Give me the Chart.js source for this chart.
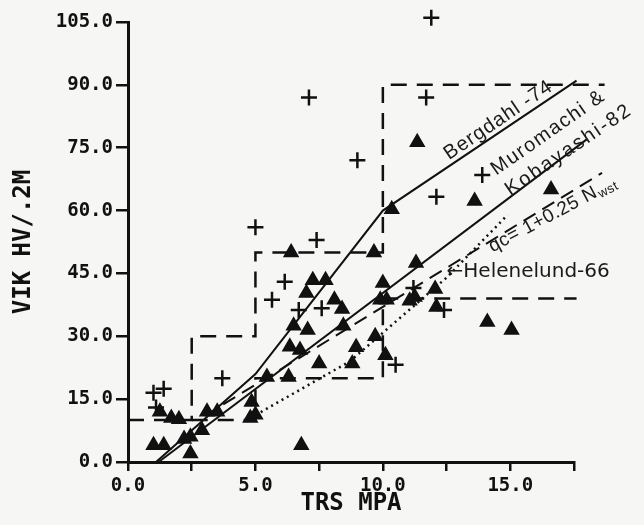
<!DOCTYPE html>
<html>
<head>
<meta charset="utf-8">
<script src="https://cdn.jsdelivr.net/npm/chart.js"></script>
<style>
  body { margin: 0; background: #f6f6f4; }
  canvas { display: block; }
</style>
</head>
<body>
<canvas id="chart" width="644" height="525"></canvas>
<script>
// plus markers
const plusX = [1.0, 1.4, 1.1, 3.7, 5.0, 5.65, 6.15, 6.7, 7.1, 7.4, 7.6, 9.0, 10.5, 11.2, 11.7, 11.9, 12.1, 12.4, 13.9, 18.7];
const plusY = [16.5, 17.5, 13.0, 20.0, 56.0, 38.7, 43.0, 36.3, 87.0, 53.0, 36.7, 72.0, 23.2, 41.5, 87.0, 106.0, 63.3, 36.3, 68.5, 69.0];

// triangle markers
const triX = [1.0, 1.4, 1.25, 1.7, 2.0, 2.2, 2.45, 2.45, 2.9, 3.1, 3.5, 4.85, 5.0, 4.8, 5.45, 6.3, 7.5, 8.8, 6.8,
  6.35, 6.75, 6.5, 7.05, 7.0, 7.25, 7.75, 6.4, 8.1, 8.4, 8.45, 8.95, 9.65, 9.7, 10.1, 10.0, 9.9, 10.15,
  11.3, 11.25, 11.05, 12.05, 12.1, 14.1, 15.05, 10.35, 11.35, 13.6, 16.6];
const triY = [4, 4, 12, 10.5, 10.2, 5.5, 6, 2, 7.6, 12, 12, 14.3, 11.3, 10.5, 20.3, 20.3, 23.5, 23.5, 4,
  27.5, 26.7, 32.5, 31.5, 40.3, 43.4, 43.4, 50, 38.7, 36.5, 32.5, 27.4, 50, 30, 25.5, 42.7, 38.7, 38.7,
  47.5, 39.4, 38.5, 41.3, 37, 33.4, 31.5, 60.3, 76.3, 62.3, 65];

// correlation curves
const bergX = [1.1, 5.0, 10.0, 17.6];
const bergY = [0, 21, 60, 91];
const muroX = [1.2, 18.0];
const muroY = [0, 77];
const qcX = [3.0, 18.6];
const qcY = [11, 69];
const heleX = [4.8, 8.7, 12.5, 14.9];
const heleY = [10.5, 24, 44, 59];

// zone boundaries
const upperX = [0, 2.5, 2.5, 5, 5, 10, 10, 18.7];
const upperY = [10, 10, 30, 30, 50, 50, 90, 90];
const lowerX = [2.5, 5, 5, 10, 10, 17.6];
const lowerY = [10, 10, 20, 20, 39, 39];

// axis ticks
const xTicks = [0, 5, 10, 15];
const yTicks = [0, 15, 30, 45, 60, 75, 90, 105];

function pts(xs, ys) {
  return xs.map((x, i) => ({ x: x, y: ys[i] }));
}

function line(xs, ys, dash, width) {
  return {
    data: pts(xs, ys),
    showLine: true,
    pointRadius: 0,
    borderColor: "#111",
    borderWidth: width,
    borderDash: dash,
    fill: false,
    clip: false,
  };
}

const annotate = {
  id: "annotate",
  beforeDraw(chart) {
    const ctx = chart.ctx;
    ctx.save();
    ctx.fillStyle = "#f6f6f4";
    ctx.fillRect(0, 0, chart.width, chart.height);
    ctx.restore();
  },
  afterDatasetsDraw(chart) {
    const ctx = chart.ctx;
    const sx = chart.scales.x;
    const sy = chart.scales.y;
    function label(text, x, y, angle, size, spacing, sub) {
      ctx.save();
      ctx.translate(sx.getPixelForValue(x), sy.getPixelForValue(y));
      ctx.rotate((-angle * Math.PI) / 180);
      ctx.font = size + "px 'Liberation Sans', sans-serif";
      ctx.letterSpacing = spacing + "px";
      ctx.fillStyle = "#1a1a1a";
      ctx.textBaseline = "alphabetic";
      ctx.fillText(text, 0, 0);
      if (sub) {
        const w = ctx.measureText(text).width;
        ctx.font = "13px 'Liberation Sans', sans-serif";
        ctx.fillText(sub, w + 1, 3);
      }
      ctx.restore();
    }
    label("Bergdahl -74", 12.6, 72, 34, 20, 1);
    label("Muromachi &", 14.45, 68.3, 35, 20, 1.5);
    label("Kobayashi-82", 15.0, 63.5, 34, 20, 2.2);
    label("qc= 1+0.25 N", 14.3, 50, 28, 19, 0.5, "wst");
    ctx.save();
    ctx.font = "20px 'DejaVu Sans', sans-serif";
    ctx.fillStyle = "#1a1a1a";
    ctx.textBaseline = "middle";
    ctx.fillText("\u2190Helenelund-66", sx.getPixelForValue(12.5), sy.getPixelForValue(45.3));
    ctx.restore();
  },
};

const tickFont = { family: "'DejaVu Sans Mono', monospace", size: 19, weight: "bold" };
const titleFont = { family: "'DejaVu Sans Mono', monospace", size: 24, weight: "bold" };

new Chart(document.getElementById("chart"), {
  type: "scatter",
  data: {
    datasets: [
      line(upperX, upperY, [16, 10], 2.5),
      line(lowerX, lowerY, [16, 10], 2.5),
      line(bergX, bergY, [], 2),
      line(muroX, muroY, [], 2),
      line(qcX, qcY, [14, 8], 2),
      line(heleX, heleY, [2, 4], 2.5),
      {
        data: pts(triX, triY),
        pointStyle: "triangle",
        pointRadius: 8,
        backgroundColor: "#111",
        borderColor: "#111",
        borderWidth: 1.5,
        clip: false,
      },
      {
        data: pts(plusX, plusY),
        pointStyle: "cross",
        pointRadius: 8,
        borderColor: "#111",
        borderWidth: 2.5,
        clip: false,
      },
    ],
  },
  options: {
    responsive: false,
    animation: false,
    layout: { padding: { top: 22, right: 70, left: 0, bottom: 0 } },
    plugins: { legend: { display: false }, tooltip: { enabled: false } },
    scales: {
      x: {
        type: "linear",
        min: 0,
        max: 17.5,
        afterFit: (s) => { s.height = 63; },
        afterBuildTicks: (s) => {
          s.ticks = [0, 2.5, 5, 7.5, 10, 12.5, 15, 17.5].map((v) => ({ value: v }));
        },
        ticks: {
          autoSkip: false,
          maxRotation: 0,
          padding: 4,
          color: "#111",
          font: tickFont,
          callback: (v) => (xTicks.includes(v) ? v.toFixed(1) : ""),
        },
        grid: { drawOnChartArea: false, tickLength: 9, color: "#111", lineWidth: 2.5 },
        border: { color: "#111", width: 3 },
        title: { display: true, text: "TRS MPA", color: "#111", font: titleFont, padding: { top: 0, bottom: 7 } },
      },
      y: {
        type: "linear",
        min: 0,
        max: 105,
        afterFit: (s) => { s.width = 128; },
        afterBuildTicks: (s) => {
          s.ticks = yTicks.map((v) => ({ value: v }));
        },
        ticks: {
          padding: 3,
          color: "#111",
          font: tickFont,
          callback: (v) => v.toFixed(1),
        },
        grid: { drawOnChartArea: false, tickLength: 12, color: "#111", lineWidth: 2.5 },
        border: { color: "#111", width: 3 },
        title: { display: true, text: "VIK HV/.2M", color: "#111", font: titleFont, padding: { top: 9, bottom: 0 } },
      },
    },
  },
  plugins: [annotate],
});
</script>
</body>
</html>
